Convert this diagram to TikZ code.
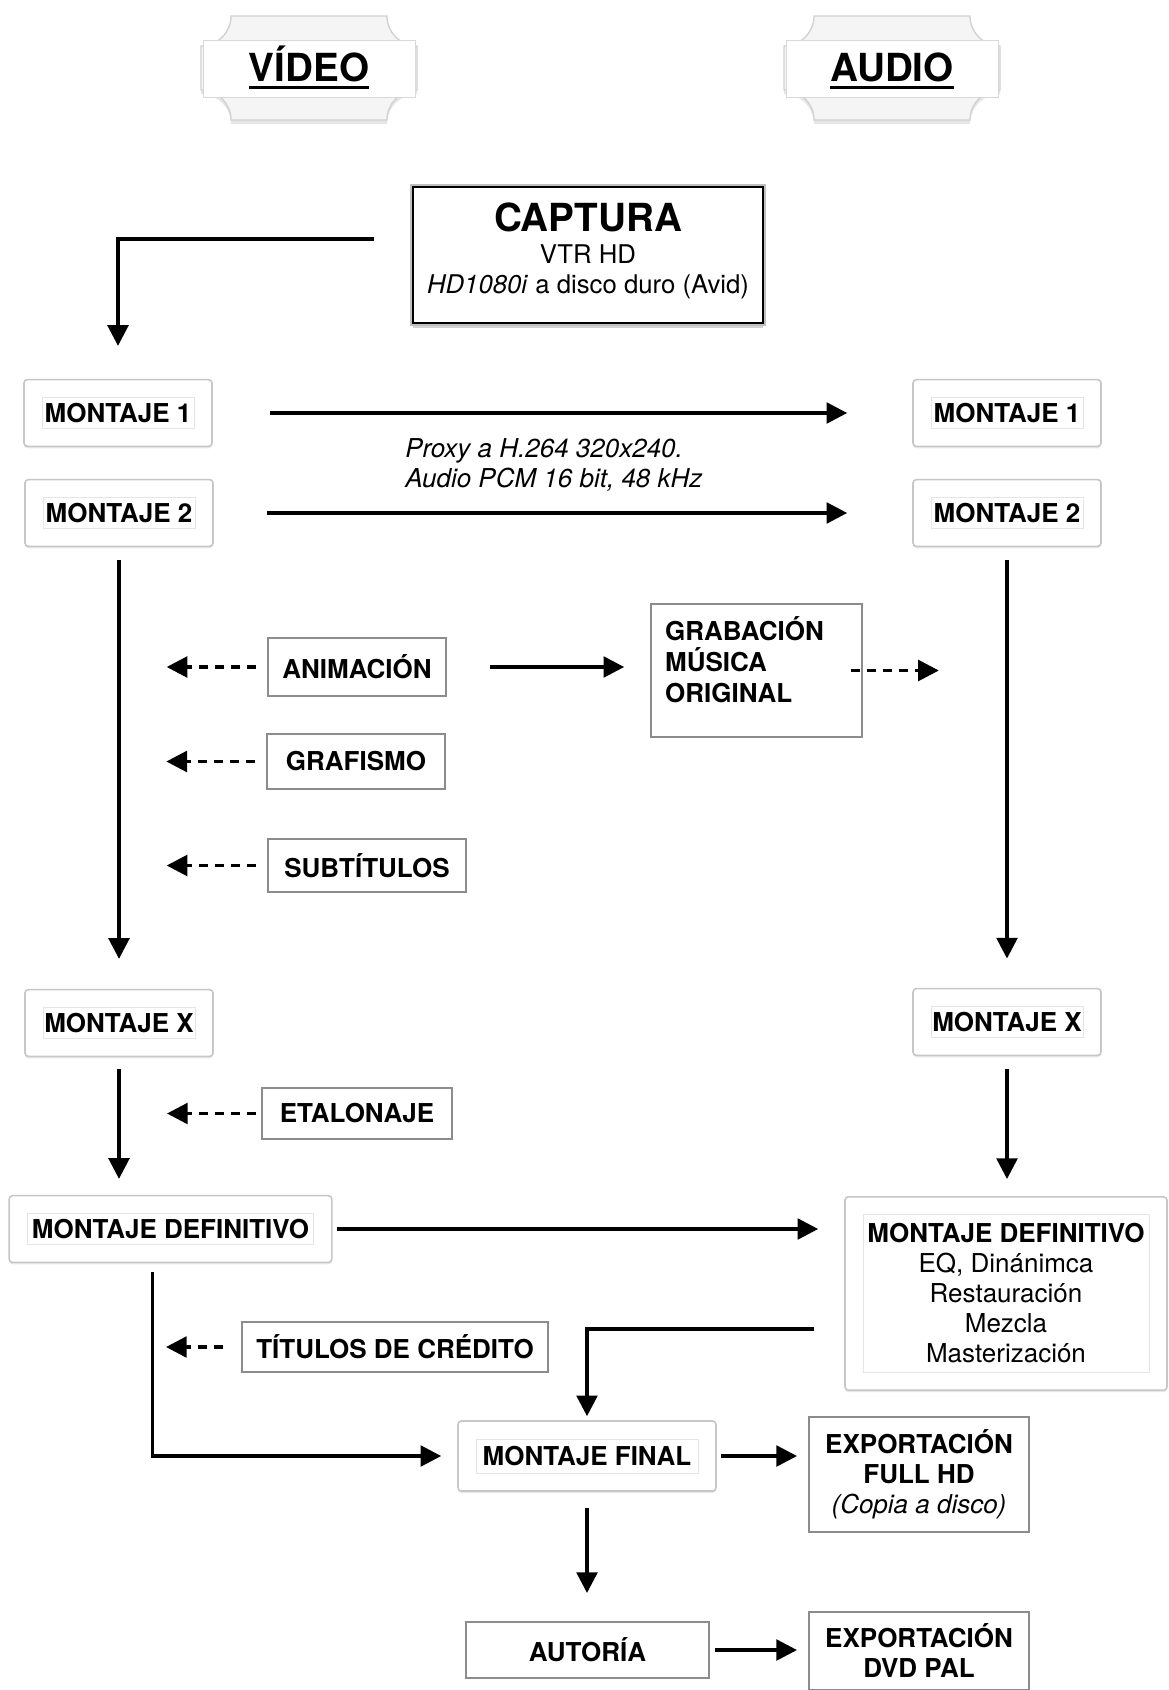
\documentclass[tikz,border=0pt]{standalone}
\usepackage{fontspec}
\setmainfont{TeX Gyre Heros}
\usetikzlibrary{arrows.meta, shadows}

\begin{document}
\begin{tikzpicture}[
    x=0.75pt, y=-0.75pt,
    >={Triangle[length=15.5pt, width=15.5pt]},
    lbl/.style={font=\fontsize{19.5}{22.5}\selectfont\bfseries},
    titulo/.style={anchor=base, inner sep=0pt, font=\fontsize{29}{34}\selectfont\bfseries},
    cabecera/.style={fill=black!4, draw=black!18, line width=1pt, drop shadow={opacity=0.2, shadow xshift=0pt, shadow yshift=-3pt}},
    capt/.style={draw=black, line width=1.1pt, fill=white, drop shadow={opacity=0.35, shadow xshift=0pt, shadow yshift=-4pt}, preaction={draw=black!25, line width=4.5pt}, minimum width=262.5pt, minimum height=102pt, align=center, font=\fontsize{19.3}{22.5}\selectfont},
    montaje/.style={lbl, draw=black!22, line width=1.2pt, rounded corners=2.5pt, fill=white, inner sep=2pt, minimum width=141pt, minimum height=50pt, align=center,
        drop shadow={opacity=0.18, shadow xshift=0pt, shadow yshift=-1.5pt},
        path picture={\draw[black!10, line width=0.6pt, sharp corners] ([shift={(13.5pt,13.5pt)}]path picture bounding box.south west) rectangle ([shift={(-13.5pt,-13.5pt)}]path picture bounding box.north east);}},
    tarea/.style={lbl, draw=black!45, line width=1.5pt, fill=white, inner sep=2pt, align=center},
    flecha/.style={->, line width=2.6pt},
    aporte/.style={flecha, dash pattern=on 6.75pt off 5.25pt},
]
    \useasboundingbox (0,0) rectangle (1168,1690);
    \clip (0,0) rectangle (1168,1690);
    \fill[white] (0,0) rectangle (1168,1690);

    \foreach \cx in {309, 892} {
        \draw[cabecera, shift={(\cx,68)}] (-78,-52) -- (78,-52) arc[start angle=180, end angle=90, radius=30] -- (108,22) arc[start angle=270, end angle=180, radius=30] -- (-78,52) arc[start angle=0, end angle=-90, radius=30] -- (-108,-22) arc[start angle=90, end angle=0, radius=30] -- cycle;
        \draw[black!15, fill=white, shift={(\cx,68)}] (-106,-28) rectangle (106,29);
    }
    \node[titulo] (vhead) at (309,82) {VÍDEO};
    \node[titulo] (ahead) at (892,82) {AUDIO};
    \foreach \n in {vhead, ahead}
        \draw[line width=2pt] ([yshift=-4pt]\n.base west) -- ([yshift=-4pt]\n.base east);

    \node[capt] (captura) at (588,255) {{\fontsize{29}{33}\selectfont\bfseries CAPTURA}\\[1.5pt]VTR HD\\\textit{HD1080i} a disco duro (Avid)\\[-12.5pt]\mbox{}};

    \node[montaje] (v1) at (118,413) {MONTAJE 1};
    \node[montaje] (v2) at (119,513) {MONTAJE 2};
    \node[montaje] (vx) at (119,1023) {MONTAJE X};
    \node[montaje] (a1) at (1007,413) {MONTAJE 1};
    \node[montaje] (a2) at (1007,513) {MONTAJE 2};
    \node[montaje] (ax) at (1007,1022) {MONTAJE X};
    \node[montaje, minimum width=242pt] (vdef) at (170.5,1229) {MONTAJE DEFINITIVO};
    \node[montaje, minimum width=241.5pt, minimum height=145pt, font=\fontsize{19.5}{22.5}\selectfont] (adef) at (1006,1293.5) {\textbf{MONTAJE DEFINITIVO}\\EQ, Dinánimca\\Restauración\\Mezcla\\Masterización};
    \node[montaje, minimum width=193.5pt, minimum height=52.5pt] (mfin) at (587,1456) {MONTAJE FINAL};

    \node[anchor=west, align=left, inner sep=0pt, font=\fontsize{19.5}{22.5}\selectfont\itshape] (proxy) at (405,465) {Proxy a H.264 320x240.\\Audio PCM 16 bit, 48 kHz};

    \node[tarea, minimum width=134pt, minimum height=44pt] (anim) at (357,667) {ANIMACIÓN};
    \node[tarea, minimum width=133pt, minimum height=41pt] (graf) at (356,761.5) {GRAFISMO};
    \node[tarea, minimum width=149pt, minimum height=40pt] (subt) at (367,865.5) {SUBTÍTULOS};
    \node[tarea, minimum width=142.5pt, minimum height=38pt] (etal) at (357,1113.5) {ETALONAJE};
    \node[tarea, minimum width=229.5pt, minimum height=37.5pt] (titu) at (395,1347) {TÍTULOS DE CRÉDITO};
    \node[tarea, minimum width=158pt, minimum height=100pt, text width=137pt, align=left, font=\fontsize{19.5}{23}\selectfont\bfseries] (grab) at (756.5,670.5) {GRABACIÓN\\MÚSICA\\ORIGINAL\\[-6.5pt]\mbox{}};
    \node[tarea, minimum width=165pt, minimum height=86pt] (expfhd) at (919,1474.5) {EXPORTACIÓN\\FULL HD\\{\mdseries\itshape (Copia a disco)}};
    \node[tarea, minimum width=182pt, minimum height=42pt] (autoria) at (587.5,1650) {AUTORÍA};
    \node[tarea, minimum width=165pt, anchor=north, inner ysep=9pt] (expdvd) at (919,1611) {EXPORTACIÓN\\DVD PAL};

    \draw[flecha, shorten >=24.75pt] ([shift={(-38,-16)}]captura.west) -| (v1);
    \draw[flecha, shorten <=42.75pt, shorten >=48.75pt] (v1) -- (a1);
    \draw[flecha, shorten <=39.75pt, shorten >=48.75pt] (v2) -- (a2);
    \draw[flecha, shorten <=9.75pt, shorten >=22.5pt] (v2) -- (vx);
    \draw[flecha, shorten <=9.75pt, shorten >=22pt] (a2) -- (ax);
    \foreach \n in {anim, graf, subt}
        \draw[aporte, shorten <=8.25pt] (\n.west) -- ++(-100,0);
    \draw[aporte, shorten <=3.75pt] (etal.west) -- ++(-94,0);
    \draw[aporte, shorten <=13.5pt] (titu.west) -- ++(-75,0);
    \draw[flecha, shorten <=32.25pt, shorten >=19.5pt] (anim.east) -- (anim.east -| grab.west);
    \draw[aporte] ([xshift=-9pt]grab.east) -- ++(88,0);
    \draw[flecha, shorten <=9pt, shorten >=12pt] (vx.south) -- (vx.south |- vdef.north);
    \draw[flecha, shorten <=9.75pt, shorten >=12.75pt] (ax.south) -- (ax.south |- adef.north);
    \draw[flecha, shorten <=3pt, shorten >=19.5pt] (vdef.east) -- (vdef.east -| adef.west);
    \draw[flecha, shorten <=6.75pt, shorten >=12pt] ([xshift=-13.5pt]vdef.south) |- (mfin.west);
    \draw[flecha, shorten <=22.5pt, shorten >=3pt] ([yshift=-26.6pt]adef.west) -| (mfin.north);
    \draw[flecha, shorten <=3pt, shorten >=8.25pt] (mfin.east) -- (mfin.east -| expfhd.west);
    \draw[flecha, shorten <=12pt, shorten >=21pt] (mfin.south) -- (mfin.south |- autoria.north);
    \draw[flecha, shorten <=3.75pt, shorten >=8.25pt] (autoria.east) -- (autoria.east -| expdvd.west);
\end{tikzpicture}
\end{document}
